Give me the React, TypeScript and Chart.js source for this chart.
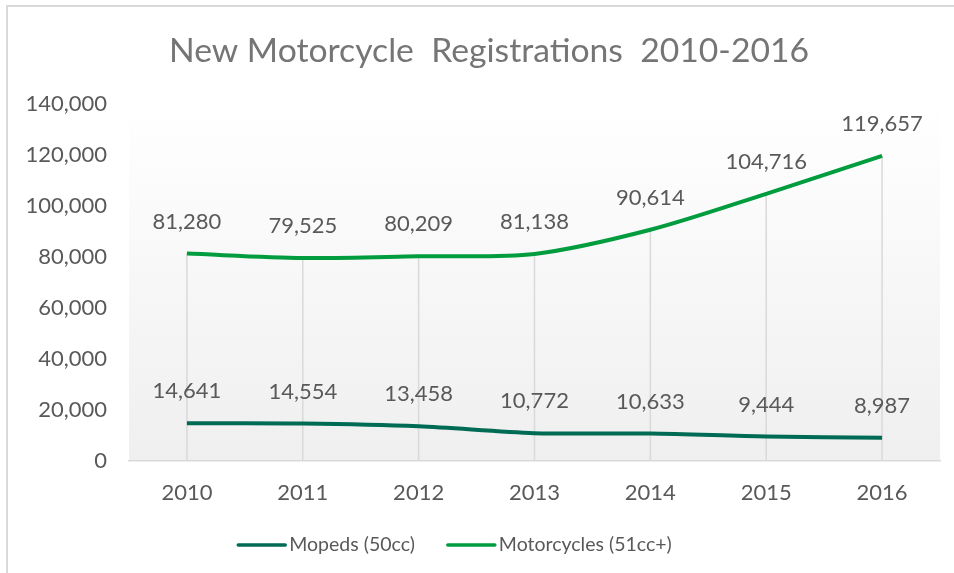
import React, { useEffect, useRef } from "react";
import { Chart, registerables } from "chart.js";

Chart.register(...registerables);

const years = ["2010", "2011", "2012", "2013", "2014", "2015", "2016"];
const mopeds = [14641, 14554, 13458, 10772, 10633, 9444, 8987];
const motorcycles = [81280, 79525, 80209, 81138, 90614, 104716, 119657];
const seriesNames = ["Mopeds (50cc)", "Motorcycles (51cc+)"];
const seriesColors = ["#006B54", "#009C3E"];
const titleText = "New Motorcycle  Registrations  2010-2016";
const yMax = 140000;
const yStep = 20000;

const FONT = "Lato, 'Open Sans', sans-serif";
const fmt = (v: number) => v.toLocaleString("en-US");

const bgPlugin = {
  id: "bgPlugin",
  beforeDraw(chart: any) {
    const { ctx, chartArea } = chart;
    if (!chartArea) return;
    const g = ctx.createLinearGradient(0, chartArea.top, 0, chartArea.bottom);
    g.addColorStop(0, "#ffffff");
    g.addColorStop(1, "#efefef");
    ctx.save();
    ctx.fillStyle = g;
    ctx.fillRect(chartArea.left, chartArea.top, chartArea.right - chartArea.left, chartArea.bottom - chartArea.top);
    ctx.restore();
  },
};

const titlePlugin = {
  id: "titlePlugin",
  afterDraw(chart: any) {
    const { ctx } = chart;
    ctx.save();
    ctx.font = `33.7px ${FONT}`;
    ctx.fillStyle = "#757575";
    ctx.textAlign = "center";
    ctx.textBaseline = "middle";
    ctx.fillText(titleText, chart.width / 2 + 12, 51);
    ctx.restore();
  },
};

const dropLines = {
  id: "dropLines",
  beforeDatasetsDraw(chart: any) {
    const { ctx, chartArea } = chart;
    const metas = chart.data.datasets.map((_: any, i: number) => chart.getDatasetMeta(i));
    ctx.save();
    ctx.strokeStyle = "#d9d9d9";
    ctx.lineWidth = 1.5;
    const n = chart.data.labels.length;
    for (let i = 0; i < n; i++) {
      let top = Infinity;
      let x = 0;
      metas.forEach((m: any) => {
        const el = m.data[i];
        if (el) {
          top = Math.min(top, el.y);
          x = el.x;
        }
      });
      ctx.beginPath();
      ctx.moveTo(x, top);
      ctx.lineTo(x, chartArea.bottom);
      ctx.stroke();
    }
    ctx.restore();
  },
};

const valueLabels = {
  id: "valueLabels",
  afterDatasetsDraw(chart: any) {
    const { ctx } = chart;
    ctx.save();
    ctx.font = `22px ${FONT}`;
    ctx.fillStyle = "#595959";
    ctx.textAlign = "center";
    ctx.textBaseline = "middle";
    chart.data.datasets.forEach((ds: any, i: number) => {
      const meta = chart.getDatasetMeta(i);
      meta.data.forEach((el: any, j: number) => {
        ctx.fillText(fmt(ds.data[j]), el.x, el.y - 32);
      });
    });
    ctx.restore();
  },
};

const customLegend = {
  id: "customLegend",
  afterDraw(chart: any) {
    const { ctx } = chart;
    ctx.save();
    ctx.font = `19.5px ${FONT}`;
    ctx.textBaseline = "middle";
    const lineW = 47;
    const gap = 4;
    const itemGap = 33;
    const items = chart.data.datasets.map((ds: any) => ({
      label: ds.label,
      color: ds.borderColor,
      w: lineW + gap + ctx.measureText(ds.label).width,
    }));
    const total = items.reduce((a: number, it: any) => a + it.w, 0) + itemGap * (items.length - 1);
    let x = chart.width / 2 - 22 - total / 2;
    const y = 545;
    items.forEach((it: any) => {
      ctx.strokeStyle = it.color;
      ctx.lineWidth = 3.5;
      ctx.lineCap = "round";
      ctx.beginPath();
      ctx.moveTo(x, y);
      ctx.lineTo(x + lineW, y);
      ctx.stroke();
      ctx.fillStyle = "#595959";
      ctx.fillText(it.label, x + lineW + gap, y);
      x += it.w + itemGap;
    });
    ctx.restore();
  },
};

export default function App() {
  const ref = useRef<HTMLCanvasElement>(null);
  useEffect(() => {
    if (!ref.current) return;
    const chart = new Chart(ref.current, {
      type: "line",
      data: {
        labels: years,
        datasets: [
          {
            label: seriesNames[0],
            data: mopeds,
            borderColor: seriesColors[0],
            backgroundColor: seriesColors[0],
            borderWidth: 4,
            pointRadius: 0,
            tension: 0.3,
          },
          {
            label: seriesNames[1],
            data: motorcycles,
            borderColor: seriesColors[1],
            backgroundColor: seriesColors[1],
            borderWidth: 4,
            pointRadius: 0,
            tension: 0.3,
          },
        ],
      },
      options: {
        animation: false,
        responsive: false,
        layout: { padding: { left: 0, right: 14, bottom: 48, top: 104 } },
        plugins: {
          legend: { display: false },
          tooltip: { enabled: false },
          title: { display: false },
        },
        scales: {
          x: {
            offset: true,
            grid: { display: false, drawTicks: false },
            border: { display: true, color: "#d9d9d9", width: 1.5 },
            ticks: { color: "#595959", font: { family: FONT, size: 22 }, padding: 19 },
          },
          y: {
            min: 0,
            max: yMax,
            grid: { display: false, drawTicks: false },
            border: { display: false },
            afterFit(scale: any) {
              scale.width = 129;
            },
            ticks: {
              stepSize: yStep,
              color: "#595959",
              font: { family: FONT, size: 22 },
              padding: 22,
              callback: (v: any) => fmt(Number(v)),
            },
          },
        },
      },
      plugins: [bgPlugin, dropLines, valueLabels, customLegend, titlePlugin],
    });
    return () => chart.destroy();
  }, []);
  return (
    <div style={{ position: "absolute", left: 0, top: 0, width: 954, height: 573, background: "#fff", overflow: "hidden" }}>
      <canvas ref={ref} width={954} height={573} style={{ display: "block" }} />
      <div
        style={{
          position: "absolute",
          left: 6,
          top: 5,
          width: 960,
          height: 600,
          borderLeft: "2px solid #d9d9d9",
          borderTop: "2px solid #d9d9d9",
          pointerEvents: "none",
        }}
      />
    </div>
  );
}
